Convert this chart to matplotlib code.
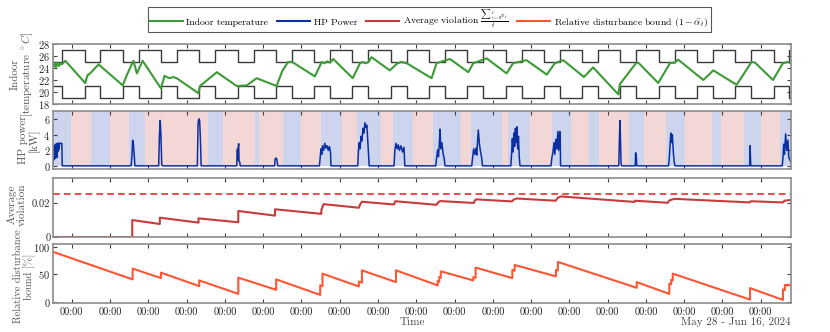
import matplotlib.pyplot as plt
import matplotlib.dates as mdates
import matplotlib.ticker as mticker
import pandas as pd
from matplotlib.lines import Line2D

# x values are days relative to May 28, 2024 00:00
t0 = pd.Timestamp("2024-05-28 00:00")
x_start, x_end = -0.49, 18.79

# comfort band schedule
comfort_day_hours = (8, 18)
upper_day, upper_night = 25, 27
lower_day, lower_night = 21, 19

temp_t = [-0.49, -0.45, -0.42, -0.38, -0.34, -0.30, -0.26, -0.17, 0.35, 0.41, 0.48, 0.70,
          1.33, 1.45, 1.61, 1.70, 1.85, 2.33, 2.42, 2.55, 2.65, 2.74, 3.31, 3.35, 3.79,
          4.31, 4.57, 4.83, 5.35, 5.50, 5.65, 5.76, 6.35, 6.53, 6.60, 6.67, 6.75, 6.83,
          7.34, 7.53, 7.60, 7.68, 7.75, 7.83, 8.31, 8.49, 8.60, 8.75, 9.40, 9.53, 9.88,
          10.36, 10.49, 10.84, 11.36, 11.53, 11.88, 12.41, 12.62, 12.84, 13.38, 13.62,
          14.28, 14.32, 14.74, 14.80, 15.32, 15.63, 15.76, 15.84, 16.50, 16.76, 17.37,
          17.76, 17.85, 18.32, 18.58, 18.70, 18.79]
temp_v = [24.2, 24.8, 24.1, 24.9, 24.3, 24.8, 24.6, 25.2, 21.5, 22.8, 23.1, 24.6,
          21.1, 23.0, 25.2, 23.1, 25.2, 20.6, 22.7, 22.3, 22.5, 22.3, 19.8, 21.0, 23.3,
          21.0, 21.1, 22.3, 21.0, 23.5, 25.0, 25.0, 22.6, 25.0, 24.8, 25.1, 24.9, 25.5,
          22.3, 24.8, 25.0, 24.8, 25.0, 25.8, 23.6, 24.7, 25.0, 24.8, 22.3, 24.8, 25.5,
          23.3, 24.8, 25.6, 23.1, 24.8, 25.3, 22.9, 24.8, 25.3, 22.5, 24.1,
          19.6, 21.3, 24.8, 24.9, 21.5, 24.8, 24.9, 25.4, 22.0, 23.6, 21.2,
          25.0, 24.9, 22.0, 24.8, 25.0, 24.8]

hp_t = [-0.49, -0.48, -0.47, -0.46, -0.45, -0.44, -0.43, -0.42, -0.41, -0.40, -0.39, -0.38,
        -0.37, -0.36, -0.35, -0.34, -0.33, -0.32, -0.30, -0.26, -0.25,
        1.55, 1.57, 1.59, 1.61, 1.63, 1.65,
        2.27, 2.29, 2.31, 2.33, 2.35, 2.37,
        3.28, 3.30, 3.32, 3.34, 3.36, 3.38,
        4.31, 4.32, 4.33, 4.34, 4.35, 4.36, 4.37, 4.39, 4.40,
        5.30, 5.31, 5.34, 5.36, 5.38,
        6.47, 6.49, 6.51, 6.53, 6.55, 6.58, 6.61, 6.64, 6.67, 6.70, 6.73, 6.76, 6.77,
        7.47, 7.49, 7.51, 7.53, 7.56, 7.58, 7.61, 7.63, 7.66, 7.68, 7.71, 7.74, 7.77,
        8.42, 8.44, 8.47, 8.50, 8.53, 8.56, 8.60, 8.64, 8.68, 8.70,
        9.51, 9.53, 9.56, 9.58, 9.60, 9.62, 9.64, 9.67, 9.70, 9.73, 9.75,
        10.45, 10.47, 10.50, 10.53, 10.56, 10.58, 10.62, 10.65, 10.68, 10.71, 10.73,
        11.47, 11.49, 11.51, 11.53, 11.55, 11.57, 11.59, 11.61, 11.63, 11.65, 11.67, 11.69, 11.71,
        12.52, 12.54, 12.57, 12.60, 12.62, 12.65, 12.67, 12.70, 12.72, 12.75, 12.76, 12.77,
        14.29, 14.31, 14.32, 14.33, 14.35, 14.37,
        14.72, 14.73, 14.75, 14.76,
        15.59, 15.61, 15.63, 15.65, 15.67, 15.69, 15.72, 15.74, 15.76,
        17.71, 17.72, 17.74,
        18.56, 18.58, 18.60, 18.62, 18.65, 18.68, 18.71, 18.73, 18.76, 18.79]
hp_v = [0.3, 2.4, 0.8, 2.6, 1.2, 2.7, 1.0, 2.8, 1.5, 2.8, 1.1, 2.9,
        1.8, 2.9, 2.0, 2.9, 2.2, 2.9, 2.9, 2.9, 0.05,
        0.05, 1.2, 3.3, 2.8, 1.5, 0.05,
        0.05, 4.0, 5.8, 3.8, 0.2, 0.05,
        0.05, 5.5, 6.0, 5.8, 3.5, 0.05,
        0.05, 1.9, 2.2, 0.8, 2.5, 2.85, 0.6, 0.5, 0.05,
        0.05, 0.9, 1.05, 0.8, 0.05,
        0.05, 1.2, 2.2, 1.5, 2.6, 2.0, 2.9, 2.3, 2.6, 2.0, 2.5, 1.8, 0.05,
        0.05, 2.0, 3.0, 2.2, 3.8, 3.2, 4.8, 4.2, 5.5, 4.9, 5.2, 2.5, 0.05,
        0.05, 2.0, 2.9, 2.2, 2.7, 2.0, 2.6, 1.8, 2.4, 0.05,
        0.05, 1.0, 2.1, 1.2, 2.7, 4.7, 2.2, 3.0, 1.6, 1.0, 0.05,
        0.05, 1.0, 2.2, 1.5, 2.3, 1.4, 4.6, 2.8, 1.8, 1.0, 0.05,
        0.05, 1.5, 3.5, 1.8, 4.2, 2.5, 4.8, 3.0, 5.0, 2.2, 3.8, 1.2, 0.05,
        0.05, 1.0, 1.8, 3.0, 1.5, 3.4, 2.2, 4.4, 2.0, 4.4, 4.2, 0.05,
        0.05, 4.0, 5.8, 4.5, 0.3, 0.05,
        0.05, 1.7, 1.2, 0.05,
        0.05, 1.0, 2.7, 4.2, 3.0, 4.0, 1.5, 0.5, 0.05,
        0.05, 2.6, 0.05,
        0.05, 1.0, 2.8, 1.5, 4.1, 2.0, 3.3, 1.2, 0.8, 0.5]

# background periods in HP panel (boundaries in days, colour of each period)
period_edges = [-0.49, -0.03, 0.50, 1.00, 1.50, 1.91, 3.57, 3.94, 4.79, 4.90, 5.53, 5.98,
                6.50, 7.07, 7.46, 8.08, 8.40, 8.92, 9.44, 10.16, 10.42, 11.23, 11.40, 11.97,
                12.54, 13.03, 13.52, 13.77, 14.56, 14.95, 15.52, 16.02, 16.73, 16.96, 17.55,
                18.00, 18.51, 18.79]
period_kind = ["low", "high", "low", "high", "low", "high", "low", "high", "low", "high",
               "low", "high", "low", "high", "low", "high", "low", "high", "low", "high",
               "low", "high", "low", "high", "low", "high", "low", "high", "low", "high",
               "low", "high", "low", "high", "low", "high", "low"]

viol_t = [-0.49, 1.58, 1.58, 2.30, 2.30, 3.31, 3.31, 4.35, 4.35, 5.31, 5.31,
          6.49, 6.52, 6.52, 6.58, 7.50, 7.53, 7.58, 8.42, 8.45, 9.53, 9.56, 9.62,
          10.50, 10.53, 10.56, 11.50, 11.55, 11.62, 12.64, 12.70, 12.78,
          14.70, 14.72, 15.57, 15.62, 15.75, 17.72, 17.74, 18.58, 18.62, 18.79]
viol_v = [0.0, 0.0, 0.0099, 0.0076, 0.0113, 0.0084, 0.0109, 0.0086, 0.0152, 0.0125, 0.0162,
          0.0136, 0.0135, 0.0158, 0.0192, 0.0171, 0.0189, 0.0206, 0.0190, 0.0209, 0.0188,
          0.0200, 0.0210, 0.0199, 0.0212, 0.0220, 0.0208, 0.0219, 0.0225, 0.0212, 0.0230,
          0.0237, 0.0205, 0.0212, 0.0200, 0.0215, 0.0223, 0.0202, 0.0209, 0.0202, 0.0212,
          0.0217]
viol_limit = 0.025

dist_t = [-0.49, 1.59, 1.59, 2.33, 2.33, 3.33, 3.33, 4.35, 4.35, 5.34, 5.34,
          6.49, 6.49, 6.55, 6.55, 7.50, 7.50, 7.58, 7.58, 8.47, 8.47,
          9.56, 9.56, 9.60, 9.60, 9.64, 9.64, 10.49, 10.49, 10.55, 10.55,
          11.51, 11.51, 11.57, 11.57, 12.65, 12.65, 12.70, 12.70, 14.76, 14.76,
          15.61, 15.61, 15.66, 15.66, 15.70, 15.70, 17.72, 17.72,
          18.58, 18.58, 18.63, 18.63, 18.70, 18.70, 18.79]
dist_v = [90.8, 40.8, 60.4, 43.2, 53.1, 28.6, 39.0, 14.6, 44.0, 22.0, 40.8,
          12.8, 30.0, 28.5, 51.3, 28.0, 37.0, 35.0, 57.3, 35.9, 57.3,
          30.0, 38.0, 37.0, 45.0, 44.0, 55.5, 39.0, 45.0, 43.5, 62.2,
          43.2, 58.0, 56.5, 67.0, 46.3, 58.0, 57.0, 72.5, 25.6, 35.9,
          14.6, 33.0, 32.0, 40.0, 39.0, 51.3, 4.2, 25.0,
          3.7, 22.6, 21.5, 31.0, 29.5, 31.0, 30.0]

green = "#3b9b35"
blue = "#0b2fa3"
red = "#c93a3a"
orange = "#ff5533"
period_colors = {"low": "#ccd4ee", "high": "#f3d6d6"}


def to_time(days):
    return t0 + pd.to_timedelta(pd.Series(days, dtype=float), unit="D")


def comfort_steps():
    # switch times of the comfort band, one day/night pair per calendar day
    times, upper, lower = [x_start], [upper_day], [lower_day]
    for d in range(-1, 20):
        for h, up, lo in ((comfort_day_hours[0], upper_day, lower_day),
                          (comfort_day_hours[1], upper_night, lower_night)):
            t = d + h / 24
            if x_start < t < x_end:
                times.append(t)
                upper.append(up)
                lower.append(lo)
    times.append(x_end)
    upper.append(upper[-1])
    lower.append(lower[-1])
    return times, upper, lower


plt.rcParams["font.family"] = ["cmr10", "DejaVu Serif"]
plt.rcParams["mathtext.fontset"] = "cm"
plt.rcParams["axes.formatter.use_mathtext"] = True
plt.rcParams["axes.unicode_minus"] = False

fig = plt.figure(figsize=(8.3, 3.32), dpi=100)
left, width = 0.0639, 0.8891
rects = [(0.6867, 0.1808), (0.491, 0.1747), (0.2861, 0.1779), (0.0873, 0.1777)]
axes = [fig.add_axes([left, b, width, h]) for b, h in rects]
ax1, ax2, ax3, ax4 = axes

# indoor temperature
ct, cu, cl = comfort_steps()
ax1.step(to_time(ct), cu, where="post", color="#3a3a3a", lw=1.0)
ax1.step(to_time(ct), cl, where="post", color="#3a3a3a", lw=1.0)
ax1.plot(to_time(temp_t), temp_v, color=green, lw=1.5)
ax1.set_ylim(18, 28)
ax1.set_yticks([18, 20, 22, 24, 26, 28])
ax1.set_ylabel("Indoor\n[temperature $^\\circ C$]", linespacing=1.0)
ax1.yaxis.set_label_coords(-0.024, 0.5)

# heat pump power
for a, b, kind in zip(period_edges[:-1], period_edges[1:], period_kind):
    ax2.fill_between(to_time([a, b]), 0, 7, color=period_colors[kind], lw=0)
ax2.plot(to_time(hp_t), hp_v, color=blue, lw=1.1)
ax2.set_ylim(-0.35, 7)
ax2.set_yticks([0, 2, 4, 6])
ax2.set_ylabel("HP power\n[kW]", linespacing=1.0)
ax2.yaxis.set_label_coords(-0.018, 0.5)

# average violation
ax3.plot(to_time(viol_t), viol_v, color=red, lw=1.5)
ax3.axhline(viol_limit, color="#e03030", lw=1.2, ls=(0, (4, 2.5)))
ax3.set_ylim(0, 0.0345)
ax3.set_yticks([0, 0.02])
ax3.yaxis.set_major_formatter(mticker.FormatStrFormatter("%g"))
ax3.set_ylabel("Average\nviolation", linespacing=1.0)
ax3.yaxis.set_label_coords(-0.036, 0.55)

# relative disturbance bound
ax4.plot(to_time(dist_t), dist_v, color=orange, lw=1.5)
ax4.set_ylim(-2, 105)
ax4.set_yticks([0, 50, 100])
ax4.set_ylabel("Relative disturbance\nbound [%]", linespacing=1.0)
ax4.yaxis.set_label_coords(-0.025, 0.45)

xlim = to_time([x_start, x_end])
for ax in axes:
    ax.set_xlim(xlim.iloc[0], xlim.iloc[1])
    ax.xaxis.set_major_locator(mdates.DayLocator())
    ax.xaxis.set_major_formatter(mdates.DateFormatter("%H:%M"))
    ax.tick_params(direction="in", length=3, width=0.8, top=True, right=True,
                   colors="#404040", labelcolor="#262626", labelsize=7.5, pad=2)
    ax.yaxis.label.set_color("#555555")
    ax.yaxis.label.set_fontsize(8)
    for s in ax.spines.values():
        s.set_color("#8c8c8c")
        s.set_linewidth(1.2)
for ax in axes[:-1]:
    ax.tick_params(labelbottom=False)
ax4.tick_params(axis="x", pad=3)
ax4.yaxis.label.set_fontsize(7.5)

fig.text(0.497, 0.030, "Time", ha="center", va="center", fontsize=8, color="#444444")
fig.text(0.953, 0.030, "May 28 - Jun 16, 2024", ha="right", va="center", fontsize=8,
         color="#444444")

handles = [Line2D([], [], color=c, lw=1.5) for c in (green, blue, red, orange)]
labels = ["Indoor temperature", "HP Power",
          "Average violation $\\frac{{\\sum}_{i=0}^{t} v_i}{t}$",
          "Relative disturbance bound $(1-\\bar{\\alpha}_t)$"]
leg = fig.legend(handles, labels, loc="upper center", bbox_to_anchor=(0.517, 0.993),
                 ncol=4, fontsize=7, frameon=True, fancybox=False, handlelength=3.4,
                 handletextpad=0.4, columnspacing=0.9, borderpad=0.2)
leg.get_frame().set_edgecolor("#303030")
leg.get_frame().set_linewidth(0.8)

fig.savefig("out.png", dpi=100)
